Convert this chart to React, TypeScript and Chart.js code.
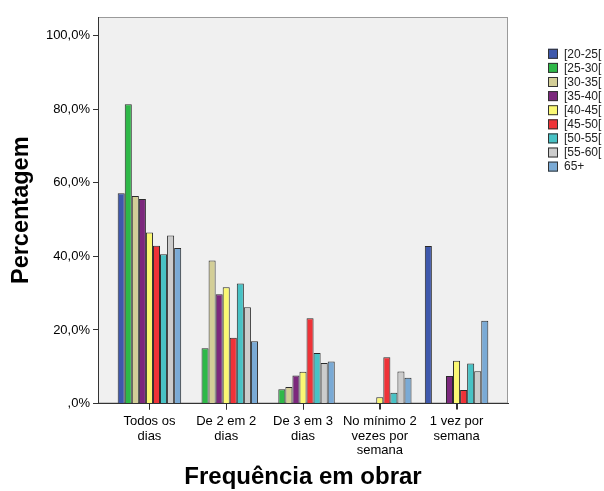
import React, { useEffect, useRef } from "react";
import { Chart, registerables } from "chart.js";

Chart.register(...registerables);

const categories: string[][] = [
  ["Todos os", "dias"],
  ["De 2 em 2", "dias"],
  ["De 3 em 3", "dias"],
  ["No mínimo 2", "vezes por", "semana"],
  ["1 vez por", "semana"],
];

const seriesLabels = ["[20-25[", "[25-30[", "[30-35[", "[35-40[", "[40-45[", "[45-50[", "[50-55[", "[55-60[", "65+"];
const seriesColors = ["#3E58AC", "#2EB848", "#D3CE97", "#7C287D", "#FBF873", "#EF3338", "#48C2C5", "#CCCCCC", "#7AAAD5"];

const s20_25 = [57.2, null, null, null, 42.8];
const s25_30 = [81.4, 15.0, 3.9, null, null];
const s30_35 = [56.4, 38.9, 4.5, null, null];
const s35_40 = [55.6, 29.7, 7.6, null, 7.5];
const s40_45 = [46.5, 31.6, 8.6, 1.7, 11.6];
const s45_50 = [42.9, 17.9, 23.2, 12.6, 3.7];
const s50_55 = [40.6, 32.6, 13.7, 2.9, 10.9];
const s55_60 = [45.7, 26.2, 11.0, 8.7, 8.8];
const s65 = [42.3, 16.9, 11.4, 7.0, 22.5];

const seriesValues = [s20_25, s25_30, s30_35, s35_40, s40_45, s45_50, s50_55, s55_60, s65];

const yTicks = [0, 20, 40, 60, 80, 100];

const FONT = "'Liberation Sans', Arial, sans-serif";

const plotBg = {
  id: "plotBg",
  beforeDraw(chart: any) {
    const { ctx, chartArea } = chart;
    ctx.save();
    ctx.fillStyle = "#F0F0F0";
    ctx.fillRect(chartArea.left, chartArea.top, chartArea.right - chartArea.left, chartArea.bottom - chartArea.top);
    ctx.strokeStyle = "#9A9A9A";
    ctx.lineWidth = 1;
    ctx.strokeRect(chartArea.left + 0.5, chartArea.top + 0.5, chartArea.right - chartArea.left - 1, chartArea.bottom - chartArea.top - 1);
    ctx.restore();
  },
};

const xTickMarks = {
  id: "xTickMarks",
  afterDraw(chart: any) {
    const { ctx } = chart;
    const xs = chart.scales.x;
    const yb = chart.chartArea.bottom;
    ctx.save();
    ctx.strokeStyle = "#333";
    ctx.lineWidth = 1;
    categories.forEach((_, i) => {
      const px = Math.round(xs.getPixelForValue(i)) + 0.5;
      ctx.beginPath();
      ctx.moveTo(px, yb);
      ctx.lineTo(px, yb + 6);
      ctx.stroke();
    });
    ctx.restore();
  },
};

const customLegend = {
  id: "customLegend",
  afterDraw(chart: any) {
    const { ctx } = chart;
    const x0 = 548;
    const y0 = 53.8;
    const step = 14.1;
    ctx.save();
    ctx.font = `12px ${FONT}`;
    ctx.textBaseline = "middle";
    ctx.textAlign = "left";
    chart.data.datasets.forEach((ds: any, i: number) => {
      const cy = y0 + i * step;
      ctx.fillStyle = ds.backgroundColor;
      ctx.fillRect(x0, cy - 5, 10, 10);
      ctx.strokeStyle = "#333";
      ctx.lineWidth = 1;
      ctx.strokeRect(x0 + 0.5, cy - 4.5, 9, 9);
      ctx.fillStyle = "#222";
      ctx.fillText(ds.label, x0 + 16, cy + 0.5);
    });
    ctx.restore();
  },
};

export default function App() {
  const ref = useRef<HTMLCanvasElement | null>(null);

  useEffect(() => {
    if (!ref.current) return;
    const chart = new Chart(ref.current, {
      type: "bar",
      data: {
        datasets: seriesLabels.map((label, k) => ({
          label,
          data: seriesValues[k].map((v, i) => ({ x: i, y: v })),
          backgroundColor: seriesColors[k],
          borderColor: "#2A2A2A",
          borderWidth: 1,
          barPercentage: 1,
          categoryPercentage: 0.827,
        })),
      },
      options: {
        animation: false,
        responsive: false,
        maintainAspectRatio: false,
        layout: { padding: { top: 17, right: 96, left: 0, bottom: 0 } },
        plugins: {
          legend: { display: false },
          tooltip: { enabled: false },
        },
        scales: {
          x: {
            type: "linear",
            min: -0.67,
            max: 4.67,
            offset: false,
            afterBuildTicks: (scale: any) => {
              scale.ticks = categories.map((_, i) => ({ value: i }));
            },
            afterFit: (scale: any) => {
              scale.height = 87.5;
            },
            ticks: {
              autoSkip: false,
              maxRotation: 0,
              minRotation: 0,
              padding: 5,
              color: "#000",
              font: { family: FONT, size: 13, lineHeight: 1.1 },
              callback: (value: any) => categories[Math.round(Number(value))] ?? "",
            },
            grid: { display: true, offset: false, drawOnChartArea: false, drawTicks: true, tickLength: 6, color: "#333" },
            border: { display: true, color: "#333", width: 1 },
            title: {
              display: true,
              text: "Frequência em obrar",
              color: "#000",
              font: { family: FONT, size: 24, weight: "bold", lineHeight: 1.1 },
              padding: { top: 0, bottom: 0 },
            },
          },
          y: {
            min: 0,
            max: 105.1,
            afterBuildTicks: (scale: any) => {
              scale.ticks = yTicks.map((v) => ({ value: v }));
            },
            afterFit: (scale: any) => {
              scale.width = 98;
            },
            ticks: {
              padding: 3,
              color: "#000",
              font: { family: FONT, size: 13 },
              callback: (value: any) => {
                const v = Number(value);
                return v === 0 ? ",0%" : v.toFixed(1).replace(".", ",") + "%";
              },
            },
            grid: { display: true, drawOnChartArea: false, drawTicks: true, tickLength: 5, color: "#333" },
            border: { display: true, color: "#333", width: 1 },
            title: {
              display: true,
              text: "Percentagem",
              color: "#000",
              font: { family: FONT, size: 23.5, weight: "bold", lineHeight: 1.1 },
              padding: { top: 9, bottom: 0 },
            },
          },
        },
      },
      plugins: [plotBg, xTickMarks, customLegend],
    } as any);
    return () => chart.destroy();
  }, []);

  return (
    <div style={{ position: "absolute", left: 0, top: 0, width: 604, height: 491, background: "#fff" }}>
      <canvas ref={ref} width={604} height={491} style={{ display: "block", width: 604, height: 491 }} />
    </div>
  );
}
